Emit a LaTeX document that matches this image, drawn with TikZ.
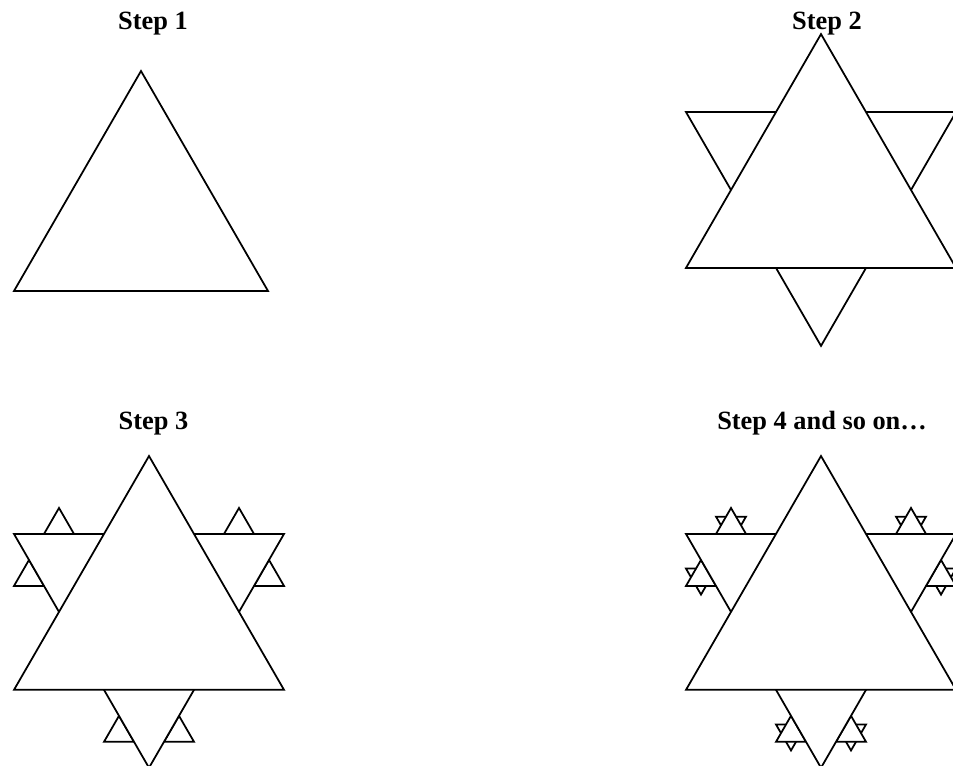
\documentclass[tikz,border=0pt]{standalone}
\usepackage{fontspec}
\setmainfont{Liberation Serif}

\begin{document}
\begin{tikzpicture}[
  edge/.style = {
    draw=black,
    fill=white,
    line width=1pt,
    line join=miter
  },
  title/.style = {
    font=\fontsize{15}{18}\selectfont\bfseries,
    anchor=base
  },
  uptri/.pic = {\path[edge] (-0.5,0) -- (0.5,0) -- (0,{sqrt(3)/2}) -- cycle;},
  downtri/.pic = {\path[edge] (-0.5,0) -- (0.5,0) -- (0,{-sqrt(3)/2}) -- cycle;}
]

\useasboundingbox (0,0) rectangle (19.06,15.3);

% ── step 1 ───────────────────────────────────────────────────────────────────
\pic[scale=5.08] at (2.82,9.48) {uptri};
\node[title] (step1) at (3.06,14.7) {Step 1};

% ── step 2 ───────────────────────────────────────────────────────────────────
\begin{scope}[shift={(16.42,11.50)}]
  \pic[scale=5.4] at (0,1.5588) {downtri};
  \pic[scale=5.4] at (0,-1.5588) {uptri};
\end{scope}
\node[title] (step2) at (16.54,14.7) {Step 2};

% ── step 3 ───────────────────────────────────────────────────────────────────
\begin{scope}[shift={(2.98,3.062)}]
  \pic[scale=0.6] at (-1.8,1.5588)   {uptri};
  \pic[scale=0.6] at (1.8,1.5588)    {uptri};
  \pic[scale=0.6] at (-2.4,0.5196)   {uptri};
  \pic[scale=0.6] at (2.4,0.5196)    {uptri};
  \pic[scale=0.6] at (-0.6,-2.5981)  {uptri};
  \pic[scale=0.6] at (0.6,-2.5981)   {uptri};
  \pic[scale=5.4] at (0,1.5588) {downtri};
  \pic[scale=5.4] at (0,-1.5588) {uptri};
\end{scope}
\node[title] (step3) at (3.07,6.7) {Step 3};

% ── step 4 ───────────────────────────────────────────────────────────────────
\begin{scope}[shift={(16.42,3.062)}]
  % tiny stars first, the rest covers them
  \pic[scale=0.6] at (-1.8,1.9052)   {downtri};
  \pic[scale=0.6] at (1.8,1.9052)    {downtri};
  \pic[scale=0.6] at (-2.4,0.8660)   {downtri};
  \pic[scale=0.6] at (2.4,0.8660)    {downtri};
  \pic[scale=0.6] at (-0.6,-2.2517)  {downtri};
  \pic[scale=0.6] at (0.6,-2.2517)   {downtri};
  \pic[scale=0.6] at (-1.8,1.5588)   {uptri};
  \pic[scale=0.6] at (1.8,1.5588)    {uptri};
  \pic[scale=0.6] at (-2.4,0.5196)   {uptri};
  \pic[scale=0.6] at (2.4,0.5196)    {uptri};
  \pic[scale=0.6] at (-0.6,-2.5981)  {uptri};
  \pic[scale=0.6] at (0.6,-2.5981)   {uptri};
  \pic[scale=5.4] at (0,1.5588) {downtri};
  \pic[scale=5.4] at (0,-1.5588) {uptri};
\end{scope}
\node[title] (step4) at (16.44,6.7) {Step 4 and so on…};

\end{tikzpicture}
\end{document}
